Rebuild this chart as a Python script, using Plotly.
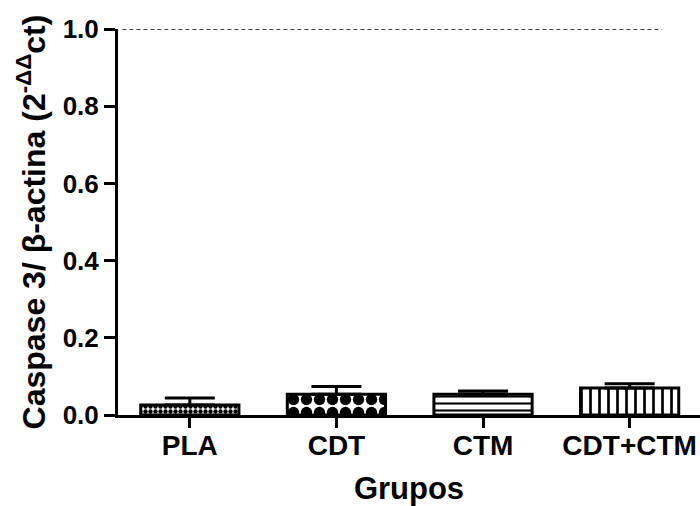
import plotly.graph_objects as go

categories = ["PLA", "CDT", "CTM", "CDT+CTM"]
means = [0.026, 0.054, 0.054, 0.070]
errors = [0.018, 0.020, 0.008, 0.011]
patterns = [".", ".", "-", "|"]
pattern_sizes = [5, 13, 7, 9]
pattern_solidity = [0.6, 0.6, 0.3, 0.3]
y_ticks = [0.0, 0.2, 0.4, 0.6, 0.8, 1.0]
ref_value = 1.0

fig = go.Figure()
fig.add_trace(go.Bar(
    x=list(range(len(categories))),
    y=means,
    width=0.67,
    marker=dict(
        color="white",
        line=dict(color="black", width=3),
        pattern=dict(shape=patterns, size=pattern_sizes, solidity=pattern_solidity,
                     fgcolor="black", bgcolor="white", fillmode="replace"),
    ),
    error_y=dict(type="data", symmetric=False, array=errors,
                 arrayminus=[0] * len(errors), color="black", thickness=3, width=25),
    showlegend=False,
))

fig.add_shape(type="line", xref="x", yref="y", x0=-0.46, x1=3.22, y0=ref_value, y1=ref_value,
              line=dict(color="black", width=1.5, dash="4px,3px"))

font_family = "Liberation Sans, Arial, sans-serif"
fig.update_layout(
    width=700, height=506,
    margin=dict(l=118, r=0, t=29, b=91, autoexpand=False),
    plot_bgcolor="white", paper_bgcolor="white",
    font=dict(family=font_family, color="black"),
)
fig.update_xaxes(
    automargin=False,
    range=[-0.49, 3.48],
    tickvals=list(range(len(categories))),
    ticktext=["<b>%s</b>" % c for c in categories],
    tickfont=dict(size=28, family=font_family, color="black"),
    ticklabelstandoff=-7,
    ticks="outside", ticklen=10, tickwidth=3, tickcolor="black",
    showline=True, linecolor="black", linewidth=3,
    showgrid=False, zeroline=False,
    title=dict(text="<b>Grupos</b>", font=dict(size=31), standoff=20),
)
fig.update_yaxes(
    automargin=False,
    range=[0, 1.0],
    tickvals=y_ticks,
    ticktext=["<b>%.1f</b>" % v for v in y_ticks],
    tickfont=dict(size=26, family=font_family, color="black"),
    ticks="outside", ticklen=11, tickwidth=3, tickcolor="black",
    showline=True, linecolor="black", linewidth=3,
    showgrid=False, zeroline=False,
    title=dict(text="<b>Caspase 3/ β-actina (2<sup>-ΔΔ</sup>ct)</b>", font=dict(size=32), standoff=8),
)

fig.write_html("out.html", config={"displayModeBar": False},
               post_script="document.body.style.margin='0';document.body.style.overflow='hidden';")
